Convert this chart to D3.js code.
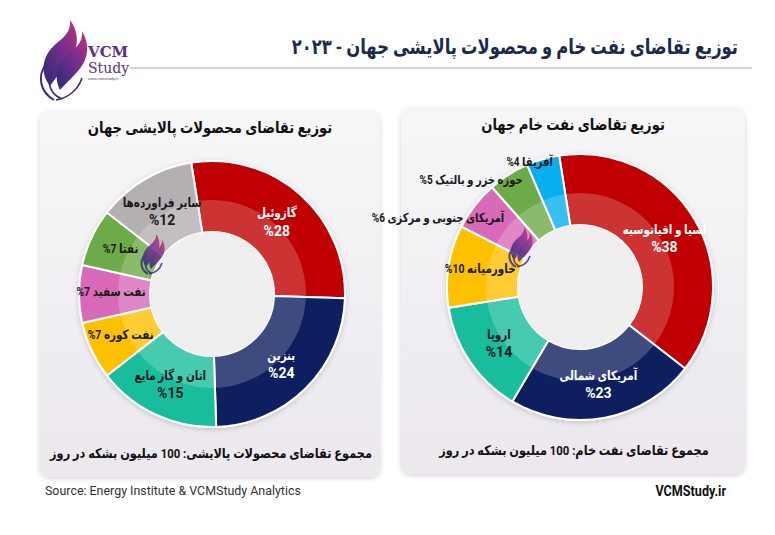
<!DOCTYPE html>
<html lang="fa">
<head>
<meta charset="utf-8">
<script src="https://cdn.jsdelivr.net/npm/d3@7/dist/d3.min.js"></script>
<style>
  html, body { margin: 0; padding: 0; background: #fff; }
  svg { display: block; font-family: Roboto, "DejaVu Sans", sans-serif; }
</style>
</head>
<body>
<div id="chart"></div>
<script>
// refined products demand (left donut)
const productNames = ['گازوئیل', 'بنزین', 'اتان و گاز مایع', 'نفت کوره', 'نفت سفید', 'نفتا', 'سایر فراورده‌ها'];
const productShares = [28, 24, 15, 7, 7, 7, 12];
const productColors = ['#c00000', '#0d1f5e', '#18bd9d', '#ffc000', '#d96ab9', '#6cab47', '#b4b0b1'];

// crude oil demand by region (right donut)
const crudeNames = ['آسیا و اقیانوسیه', 'آمریکای شمالی', 'اروپا', 'خاورمیانه', 'آمریکای جنوبی و مرکزی', 'حوزه خزر و بالتیک', 'آفریقا'];
const crudeShares = [38, 23, 14, 10, 6, 5, 4];
const crudeColors = ['#c00000', '#0d1f5e', '#18bd9d', '#ffc000', '#d96ab9', '#6cab47', '#06b0ee'];

const titleText = 'توزیع  تقاضای نفت خام و محصولات پالایشی جهان - ۲۰۲۳';
const productTitle = 'توزیع تقاضای محصولات پالایشی جهان';
const crudeTitle = 'توزیع تقاضای نفت خام جهان';
const productTotal = 'مجموع تقاضای محصولات پالایشی: 100 میلیون بشکه در روز';
const crudeTotal = 'مجموع تقاضای نفت خام: 100 میلیون بشکه در روز';

const width = 775, height = 535;
const darkLabels = new Set(['#18bd9d', '#ffc000', '#d96ab9', '#6cab47', '#b4b0b1', '#06b0ee']);

const svg = d3.select('#chart').append('svg')
    .attr('width', width)
    .attr('height', height);

const defs = svg.append('defs');

const panelGrad = defs.append('linearGradient')
    .attr('id', 'panelGrad')
    .attr('x1', 0).attr('y1', 0).attr('x2', 0).attr('y2', 1);
panelGrad.append('stop').attr('offset', '0%').attr('stop-color', '#f6f6f7');
panelGrad.append('stop').attr('offset', '100%').attr('stop-color', '#ece8ee');

const logoGrad = defs.append('linearGradient')
    .attr('id', 'logoGrad')
    .attr('x1', 0).attr('y1', 1).attr('x2', 1).attr('y2', 0);
logoGrad.append('stop').attr('offset', '0%').attr('stop-color', '#2e2a78');
logoGrad.append('stop').attr('offset', '60%').attr('stop-color', '#7a2f8c');
logoGrad.append('stop').attr('offset', '100%').attr('stop-color', '#c2307c');

const shadow = defs.append('filter')
    .attr('id', 'shadow')
    .attr('x', '-10%').attr('y', '-10%').attr('width', '120%').attr('height', '120%');
shadow.append('feDropShadow')
    .attr('dx', 0).attr('dy', 1.5).attr('stdDeviation', 2.5)
    .attr('flood-color', '#000').attr('flood-opacity', 0.18);

// percent shown as "%7" on the left of a persian label
function pct(v) { return '\u2066%' + v + '\u2069'; }

// persian text, squeezed horizontally (DejaVu is wide)
function rtlText(parent, x, y, str, size, sx, anchor) {
    return parent.append('text')
        .attr('transform', `translate(${x},${y}) scale(${sx},1)`)
        .attr('direction', 'rtl')
        .attr('text-anchor', anchor || 'middle')
        .attr('font-size', size)
        .attr('font-weight', 'bold')
        .text(str);
}

// flame logo, drawn in a 50x80 box
function flame(g, scale, opacity) {
    const f = g.append('g').attr('opacity', opacity);
    f.append('path')
        .attr('d', 'M12,66 C0,50 6,33 20,22 C29,15 33,9 32,0 C42,13 41,30 30,43 C21,54 17,59 12,66 Z')
        .attr('fill', 'url(#logoGrad)');
    f.append('path')
        .attr('d', 'M22,70 C15,55 20,42 32,33 C41,26 45,19 44,11 C52,24 51,39 40,51 C33,59 27,64 22,70 Z')
        .attr('fill', 'url(#logoGrad)');
    f.append('path')
        .attr('d', 'M8,44 C-1,56 2,72 16,80')
        .attr('fill', 'none').attr('stroke', '#3a2a7c').attr('stroke-width', 2 / scale);
    f.append('path')
        .attr('d', 'M14,52 C8,62 12,74 24,79')
        .attr('fill', 'none').attr('stroke', '#3a2a7c').attr('stroke-width', 1.6 / scale);
    f.append('path')
        .attr('d', 'M44,58 C40,70 30,78 18,80')
        .attr('fill', 'none').attr('stroke', '#3a2a7c').attr('stroke-width', 1.6 / scale);
    return f;
}

// header logo
const logo = svg.append('g').attr('transform', 'translate(38,20)');
flame(logo, 1, 1);
svg.append('text')
    .attr('x', 88).attr('y', 57)
    .attr('font-family', '"DejaVu Serif", serif').attr('font-weight', 'bold')
    .attr('font-size', 15).attr('fill', '#5b2d86')
    .text('VCM');
svg.append('text')
    .attr('x', 88).attr('y', 73)
    .attr('font-family', '"DejaVu Serif", serif')
    .attr('font-size', 14).attr('fill', '#5b2d86')
    .text('Study');
svg.append('text')
    .attr('x', 88).attr('y', 80)
    .attr('font-size', 4).attr('fill', '#5b2d86')
    .text('www.vcmstudy.ir');

// header title and rule
rtlText(svg, 738, 54, titleText, 21, 0.78, 'start')
    .attr('fill', '#1b2a4a');
svg.append('line')
    .attr('x1', 130).attr('x2', 752)
    .attr('y1', 68).attr('y2', 68)
    .attr('stroke', '#b89cc9').attr('stroke-width', 1.2);

// panels
const panels = [
    {x: 40, y: 111, w: 340, h: 366, title: productTitle, total: productTotal},
    {x: 401, y: 108, w: 344, h: 366, title: crudeTitle, total: crudeTotal}
];
panels.forEach(function (p) {
    svg.append('rect')
        .attr('x', p.x).attr('y', p.y)
        .attr('width', p.w).attr('height', p.h)
        .attr('rx', 10)
        .attr('fill', 'url(#panelGrad)')
        .attr('filter', 'url(#shadow)');
    rtlText(svg, p.x + p.w / 2, p.y + 22, p.title, 15.5, 0.85).attr('fill', '#111');
    rtlText(svg, p.x + p.w / 2 + 1, p.y + p.h - 19, p.total, 13.5, 0.84).attr('fill', '#111');
});

const rOuter = 133, rInner = 62, rBand = 94;
const startDeg = -9;

function donut(cx, cy, names, shares, colors, outsideR) {
    const data = names.map(function (n, i) { return {name: n, value: shares[i], color: colors[i]}; });
    const pie = d3.pie()
        .sort(null)
        .value(function (d) { return d.value; })
        .startAngle(startDeg * Math.PI / 180)
        .endAngle((startDeg + 360) * Math.PI / 180);
    const arc = d3.arc().innerRadius(rInner).outerRadius(rOuter);
    const labelArc = d3.arc().innerRadius(98).outerRadius(98);
    const smallArc = d3.arc().innerRadius(101).outerRadius(101);

    const g = svg.append('g').attr('transform', `translate(${cx},${cy})`);

    g.append('circle')
        .attr('r', rOuter + 1)
        .attr('fill', '#fff')
        .attr('filter', 'url(#shadow)');

    g.selectAll('.slice')
        .data(pie(data))
        .enter()
        .append('path')
        .attr('class', 'slice')
        .attr('d', arc)
        .attr('fill', function (d) { return d.data.color; })
        .attr('stroke', '#fff')
        .attr('stroke-width', 2);

    // lighter inner band
    g.append('path')
        .attr('d', d3.arc().innerRadius(rInner).outerRadius(rBand).startAngle(0).endAngle(2 * Math.PI)())
        .attr('fill', '#fff')
        .attr('fill-opacity', 0.2);

    g.append('circle')
        .attr('r', rInner)
        .attr('fill', '#efeff0');

    // watermark
    const wm = g.append('g').attr('transform', `translate(${-rInner - 10},${-rInner + 2}) scale(0.5)`);
    flame(wm, 0.5, 0.85);

    pie(data).forEach(function (d, i) {
        const fill = darkLabels.has(d.data.color) ? '#1a1a1a' : '#fff';
        if (d.data.value >= 12) {
            const c = labelArc.centroid(d);
            rtlText(g, c[0], c[1] - 3, d.data.name, 13, 0.8).attr('fill', fill);
            g.append('text')
                .attr('x', c[0]).attr('y', c[1] + 15)
                .attr('text-anchor', 'middle')
                .attr('font-size', 14).attr('font-weight', 'bold')
                .attr('fill', fill)
                .text('%' + d.data.value);
        } else if (outsideR && outsideR[i]) {
            const mid = (d.startAngle + d.endAngle) / 2;
            const r = outsideR[i];
            rtlText(g, Math.sin(mid) * r + 8, -Math.cos(mid) * r, d.data.name + ' ' + pct(d.data.value), 12.5, 0.8, 'start')
                .attr('fill', '#1a1a1a');
        } else {
            const c = smallArc.centroid(d);
            rtlText(g, c[0], c[1] + 2, d.data.name + ' ' + pct(d.data.value), 13, 0.8).attr('fill', fill);
        }
    });
}

donut(212, 294, productNames, productShares, productColors, null);
// label radii for the thin crude slices drawn outside the ring
donut(580, 287, crudeNames, crudeShares, crudeColors, [0, 0, 0, 0, 106, 122, 126]);

// footer
svg.append('text')
    .attr('transform', 'translate(45,495) scale(0.92,1)')
    .attr('font-size', 13.5).attr('fill', '#333')
    .text('Source: Energy Institute & VCMStudy Analytics');
svg.append('text')
    .attr('transform', 'translate(726,496) scale(0.9,1)')
    .attr('text-anchor', 'end')
    .attr('font-size', 14).attr('font-weight', 'bold').attr('fill', '#111')
    .text('VCMStudy.ir');
</script>
</body>
</html>
